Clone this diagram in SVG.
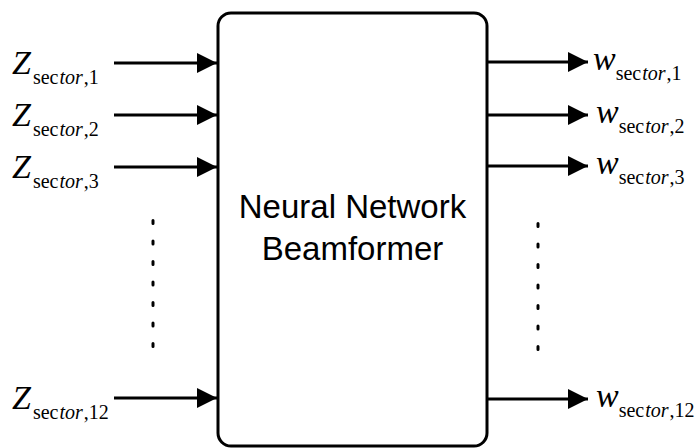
<svg xmlns="http://www.w3.org/2000/svg" width="698" height="448" viewBox="0 0 698 448">
  <defs>
    <style>
      .box { fill: #ffffff; stroke: #000000; stroke-width: 3; }
      .wire { stroke: #000000; stroke-width: 3.2; fill: none; }
      .head { fill: #000000; }
      .dots { stroke: #000000; stroke-width: 3; stroke-linecap: round; stroke-dasharray: 3 17.5; fill: none; }
      .title { font-family: "Liberation Sans", Arial, sans-serif; font-size: 33px; fill: #000000; text-anchor: middle; }
      .sym { font-family: "Liberation Serif", "Times New Roman", serif; fill: #000000; }
      .big { font-size: 34px; font-style: italic; }
      .sub { font-size: 20px; font-style: normal; }
      .it { font-style: italic; }
    </style>
    <marker id="arrow" markerWidth="20" markerHeight="20" refX="20" refY="10" orient="auto" markerUnits="userSpaceOnUse">
      <path class="head" d="M0,0 L20,10 L0,20 Z"/>
    </marker>
  </defs>

  <rect width="698" height="448" fill="#ffffff"/>

  <!-- beamformer block -->
  <g id="beamformer">
    <rect class="box" x="218" y="13" width="269" height="433" rx="13" ry="13"/>
    <text class="title" x="352.5" y="218">Neural Network</text>
    <text class="title" x="352.5" y="260">Beamformer</text>
  </g>

  <!-- input and output arrows -->
  <g id="connectors">
    <line class="wire" x1="114" y1="63" x2="217" y2="63" marker-end="url(#arrow)"/>
    <line class="wire" x1="114" y1="115" x2="217" y2="115" marker-end="url(#arrow)"/>
    <line class="wire" x1="114" y1="167" x2="217" y2="167" marker-end="url(#arrow)"/>
    <line class="wire" x1="114" y1="398" x2="217" y2="398" marker-end="url(#arrow)"/>
    <line class="wire" x1="487" y1="62" x2="588" y2="62" marker-end="url(#arrow)"/>
    <line class="wire" x1="487" y1="115" x2="588" y2="115" marker-end="url(#arrow)"/>
    <line class="wire" x1="487" y1="166" x2="588" y2="166" marker-end="url(#arrow)"/>
    <line class="wire" x1="487" y1="399" x2="588" y2="399" marker-end="url(#arrow)"/>
  </g>

  <!-- ellipsis columns -->
  <g id="ellipsis-in">
    <line class="dots" x1="153" y1="220.5" x2="153" y2="350"/>
  </g>
  <g id="ellipsis-out">
    <line class="dots" x1="538" y1="223.5" x2="538" y2="352"/>
  </g>

  <!-- input labels -->
  <g id="z1"><text class="sym" font-family="'Liberation Serif', serif" x="12" y="74"><tspan class="big">Z</tspan><tspan class="sub" dx="2" dy="10">sec</tspan><tspan class="sub it" dx="1">tor</tspan><tspan class="sub" dx="1">,1</tspan></text></g>
  <g id="z2"><text class="sym" font-family="'Liberation Serif', serif" x="12" y="126"><tspan class="big">Z</tspan><tspan class="sub" dx="2" dy="10">sec</tspan><tspan class="sub it" dx="1">tor</tspan><tspan class="sub" dx="1">,2</tspan></text></g>
  <g id="z3"><text class="sym" font-family="'Liberation Serif', serif" x="12" y="178"><tspan class="big">Z</tspan><tspan class="sub" dx="2" dy="10">sec</tspan><tspan class="sub it" dx="1">tor</tspan><tspan class="sub" dx="1">,3</tspan></text></g>
  <g id="z12"><text class="sym" font-family="'Liberation Serif', serif" x="12" y="409"><tspan class="big">Z</tspan><tspan class="sub" dx="2" dy="10">sec</tspan><tspan class="sub it" dx="1">tor</tspan><tspan class="sub" dx="1">,12</tspan></text></g>

  <!-- output labels -->
  <g id="w1"><text class="sym" font-family="'Liberation Serif', serif" x="593" y="70"><tspan class="big">w</tspan><tspan class="sub" dy="10">sec</tspan><tspan class="sub it" dx="1">tor</tspan><tspan class="sub" dx="1">,1</tspan></text></g>
  <g id="w2"><text class="sym" font-family="'Liberation Serif', serif" x="596" y="123"><tspan class="big">w</tspan><tspan class="sub" dy="10">sec</tspan><tspan class="sub it" dx="1">tor</tspan><tspan class="sub" dx="1">,2</tspan></text></g>
  <g id="w3"><text class="sym" font-family="'Liberation Serif', serif" x="596" y="174"><tspan class="big">w</tspan><tspan class="sub" dy="10">sec</tspan><tspan class="sub it" dx="1">tor</tspan><tspan class="sub" dx="1">,3</tspan></text></g>
  <g id="w12"><text class="sym" font-family="'Liberation Serif', serif" x="596" y="407"><tspan class="big">w</tspan><tspan class="sub" dy="10">sec</tspan><tspan class="sub it" dx="1">tor</tspan><tspan class="sub" dx="1">,12</tspan></text></g>
</svg>
